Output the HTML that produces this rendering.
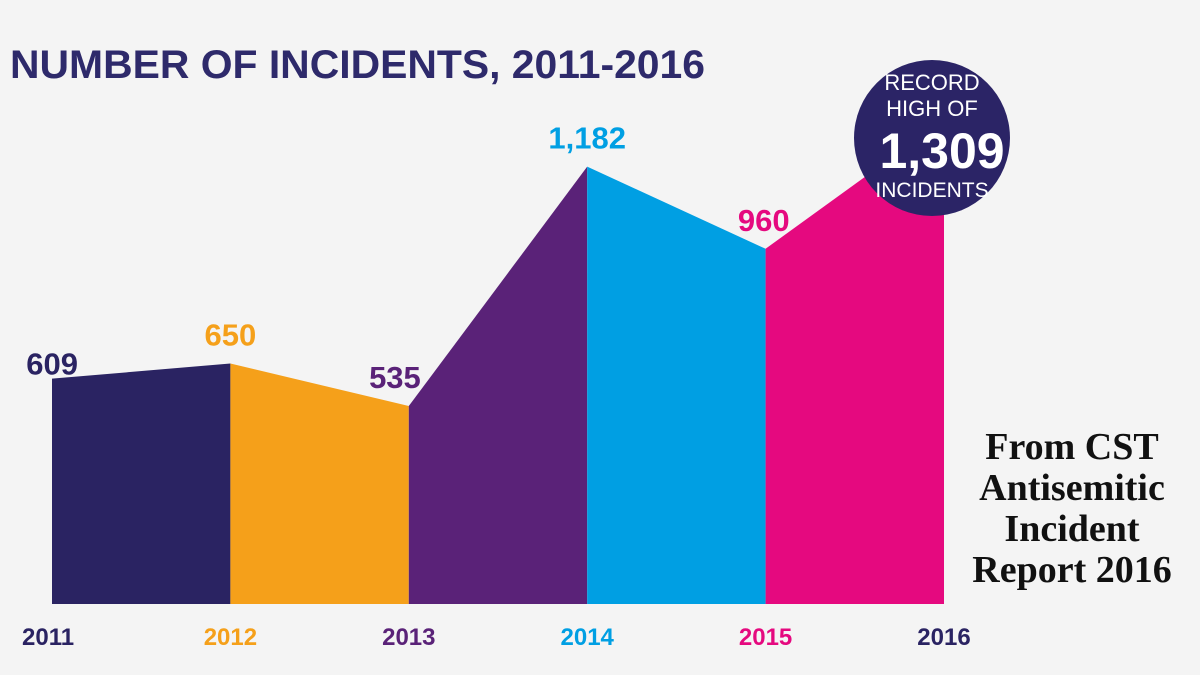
<!DOCTYPE html>
<html><head><meta charset="utf-8"><style>
body{margin:0;background:#f4f4f4;}
svg{display:block;font-family:"Liberation Sans",sans-serif;}
</style></head><body>
<svg id="chart" width="1200" height="675">
<rect width="1200" height="675" fill="#f4f4f4"/>
<text x="10" y="78" font-size="40" font-weight="bold" fill="#2e2a6b" textLength="695" lengthAdjust="spacingAndGlyphs">NUMBER OF INCIDENTS, 2011-2016</text>
<g id="areas"></g>
<g id="labels"></g>
<g>
<circle cx="932" cy="138" r="78" fill="#2b2466"/>
<text x="932" y="90" font-size="22" fill="#fff" text-anchor="middle">RECORD</text>
<text x="932" y="116" font-size="22" fill="#fff" text-anchor="middle">HIGH OF</text>
<text x="942" y="168" font-size="50" font-weight="bold" fill="#fff" text-anchor="middle">1,309</text>
<text x="932" y="197" font-size="21" fill="#fff" text-anchor="middle">INCIDENTS</text>
</g>
<g font-family="'Liberation Serif',serif" font-weight="bold" font-size="38" fill="#111" text-anchor="middle">
<text x="1072" y="459">From CST</text>
<text x="1072" y="500">Antisemitic</text>
<text x="1072" y="541">Incident</text>
<text x="1072" y="582">Report 2016</text>
</g>
</svg>
<script>
const years = ["2011","2012","2013","2014","2015","2016"];
const values = [609,650,535,1182,960,1309];
const valueLabels = ["609","650","535","1,182","960",""];
const colors = ["#2a2362","#f5a01a","#5a2278","#009fe3","#e5097f","#2a2362"];
const NS="http://www.w3.org/2000/svg";
const x0=52, step=178.4, base=604, k=0.37;
function xs(i){return x0+i*step;}
function ys(v){return base-v*k;}
const areas=document.getElementById('areas'), labels=document.getElementById('labels');
for(let i=0;i<values.length-1;i++){
  const p=document.createElementNS(NS,'polygon');
  p.setAttribute('points',`${xs(i)},${base} ${xs(i)},${ys(values[i])} ${xs(i+1)},${ys(values[i+1])} ${xs(i+1)},${base}`);
  p.setAttribute('fill',colors[i]);
  
  
  areas.appendChild(p);
}
const anchors=['end','middle','end','middle','end','middle'];
const dx=[26,0,12,0,24,0];
for(let i=0;i<values.length;i++){
  const t=document.createElementNS(NS,'text');
  t.setAttribute('x',i===0?22:xs(i));
  t.setAttribute('y',645);
  t.setAttribute('font-size','24');t.setAttribute('font-weight','bold');
  t.setAttribute('fill',colors[i]);
  t.setAttribute('text-anchor',i===0?'start':'middle');
  t.textContent=years[i];
  
  
  labels.appendChild(t);
  if(valueLabels[i]){
    const v=document.createElementNS(NS,'text');
    v.setAttribute('x',xs(i)+dx[i]);
    v.setAttribute('y',ys(values[i])-(i===0?4:18));
    v.setAttribute('font-size','31');v.setAttribute('font-weight','bold');
    v.setAttribute('fill',colors[i]);
    v.setAttribute('text-anchor',anchors[i]);
    v.textContent=valueLabels[i];
    
    
    labels.appendChild(v);
  }
}
</script>
</body></html>
